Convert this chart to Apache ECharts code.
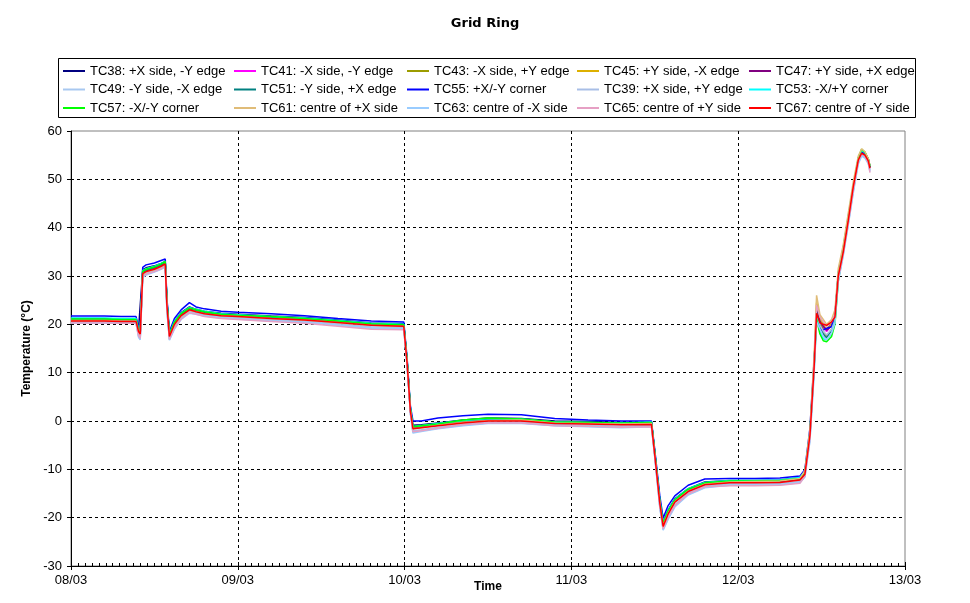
<!DOCTYPE html>
<html><head><meta charset="utf-8">
<script src="https://cdn.jsdelivr.net/npm/echarts@6/dist/echarts.min.js"></script>
<style>html,body{margin:0;padding:0;background:#fff}#c{width:970px;height:603px}</style>
</head><body><div id="c"></div>
<script>
// Tick labels (x axis = days since 08/03 00:00)
const xTickLabels = ['08/03','09/03','10/03','11/03','12/03','13/03'];
// Time stamps (days)
const times = [0,0.1,0.2,0.3,0.39, 0.405,0.415, 0.43,0.45,0.5,0.54,0.565, 0.575,0.59, 0.62,0.66,0.71,0.75,0.8,0.9,
  1.0,1.2,1.4,1.6,1.8,1.995, 2.015,2.035, 2.05,2.1,2.2,2.35,2.5,2.7,2.9,3.1,3.3,3.48,
  3.5,3.53,3.55,3.58,3.62, 3.7,3.8,3.95,4.1,4.25,4.37, 4.4,4.43,4.455,4.47, 4.49,4.51,4.53,4.56,4.58,
  4.6,4.63,4.66,4.69,4.72,4.74,4.76,4.78,4.79];

const TC38 = [21.2,21.2,21.2,21.1,21.1, 19.0,18.6, 31.3,31.7,32.1,32.6,33.0, 25.0,18.0, 20.6,22.4,23.6,23.1,22.7,22.3,
  22.1,21.7,21.4,20.9,20.3,20.1, 12.5,2.5, -0.9,-0.8,-0.4,0.2,0.6,0.5,0.0,-0.1,-0.3,-0.2,
  -6.5,-16.3,-21.0,-18.4,-16.1, -14.0,-12.6,-12.3,-12.3,-12.2,-11.7, -10.5,-2.5,11.5,22.0, 19.8,19.3,19.0,20.0,21.8,
  30.2,35.3,41.8,48.7,54.3,55.8,55.3,54.0,52.6];
const TC41 = [20.9,20.9,20.9,20.8,20.8, 18.4,17.9, 30.7,31.1,31.6,32.2,32.7, 24.3,17.6, 20.1,21.9,23.1,22.8,22.4,22.0,
  21.8,21.4,21.0,20.5,20.0,19.8, 12.2,2.2, -1.4,-1.2,-0.8,-0.2,0.2,0.1,-0.3,-0.4,-0.6,-0.5,
  -6.8,-16.8,-21.5,-19.0,-16.6, -14.4,-13.0,-12.6,-12.6,-12.5,-12.0, -10.8,-2.8,11.0,23.0, 20.5,19.5,18.5,19.8,21.3,
  29.8,35.0,41.5,48.5,54.2,55.8,55.4,54.0,52.5];
const TC43 = [21.0,21.0,20.9,20.9,20.9, 18.6,18.1, 30.8,31.2,31.7,32.3,32.8, 24.5,17.8, 20.3,22.0,23.2,22.9,22.5,22.0,
  21.9,21.5,21.2,20.6,20.1,19.9, 12.3,2.3, -1.2,-1.0,-0.6,0.0,0.4,0.3,-0.2,-0.3,-0.5,-0.4,
  -6.7,-16.6,-21.3,-18.7,-16.4, -14.2,-12.9,-12.5,-12.4,-12.3,-11.8, -10.6,-2.6,11.5,23.5, 20.8,18.5,17.5,19.0,21.0,
  29.5,35.8,42.3,48.0,53.8,56.0,55.6,54.2,52.8];
const TC45 = [20.9,20.9,20.9,20.8,20.8, 18.5,18.0, 30.6,31.0,31.5,32.1,32.6, 24.3,17.6, 20.1,21.9,23.1,22.7,22.4,21.9,
  21.8,21.4,21.1,20.5,20.0,19.8, 12.1,2.1, -1.3,-1.1,-0.7,-0.1,0.3,0.2,-0.3,-0.4,-0.6,-0.5,
  -6.9,-16.8,-21.5,-18.9,-16.6, -14.3,-13.0,-12.6,-12.5,-12.4,-11.9, -10.7,-2.9,12.0,24.5, 21.5,20.0,19.0,20.0,21.8,
  30.4,35.5,42.0,48.2,54.0,56.2,55.5,54.0,52.6];
const TC47 = [20.8,20.8,20.8,20.7,20.7, 18.3,17.8, 30.6,31.0,31.5,32.1,32.6, 24.2,17.5, 20.0,21.8,23.0,22.7,22.3,21.9,
  21.7,21.3,21.0,20.5,19.9,19.7, 12.0,2.0, -1.5,-1.3,-0.9,-0.3,0.1,0.1,-0.4,-0.5,-0.7,-0.6,
  -7.0,-17.0,-21.6,-19.1,-16.7, -14.5,-13.1,-12.7,-12.7,-12.6,-12.1, -10.9,-3.0,11.2,22.8, 20.6,19.6,18.8,19.6,21.6,
  30.0,35.2,41.6,48.4,54.0,55.6,55.1,53.9,52.4];
const TC49 = [20.4,20.4,20.3,20.3,20.3, 17.5,16.9, 29.8,30.3,30.9,31.5,32.0, 23.0,16.8, 19.2,21.2,22.5,22.3,21.8,21.4,
  21.2,20.8,20.5,19.9,19.3,19.2, 11.5,1.5, -2.3,-2.0,-1.5,-0.9,-0.4,-0.4,-0.9,-1.1,-1.3,-1.1,
  -7.5,-17.8,-22.5,-20.2,-17.6, -15.2,-13.7,-13.2,-13.2,-13.1,-12.7, -11.5,-4.0,10.0,21.0, 19.5,18.0,17.0,18.5,20.5,
  29.0,34.5,40.8,47.5,53.5,55.0,54.6,53.4,51.8];
const TC51 = [21.0,21.0,21.0,20.9,20.9, 18.7,18.2, 30.9,31.3,31.8,32.4,32.9, 24.6,17.9, 20.4,22.1,23.3,22.9,22.5,22.1,
  21.9,21.5,21.2,20.7,20.1,19.9, 12.4,2.4, -1.1,-0.9,-0.5,0.1,0.4,0.3,-0.2,-0.3,-0.4,-0.3,
  -6.6,-16.5,-21.2,-18.6,-16.3, -14.1,-12.8,-12.4,-12.4,-12.3,-11.8, -10.5,-2.4,11.8,22.5, 19.5,18.0,17.2,18.8,21.0,
  30.6,35.6,42.0,48.6,54.2,55.9,55.4,54.1,52.6];
const TC55 = [21.7,21.7,21.7,21.6,21.6, 19.5,19.0, 31.8,32.3,32.7,33.2,33.5, 25.5,18.5, 21.2,23.0,24.5,23.6,23.2,22.7,
  22.5,22.2,21.8,21.2,20.7,20.5, 13.0,3.0, 0.0,0.0,0.6,1.1,1.4,1.3,0.5,0.2,0.0,0.0,
  -6.0,-15.5,-20.1,-17.5,-15.5, -13.3,-12.0,-11.9,-11.9,-11.8,-11.4, -10.0,-1.5,12.5,21.0, 19.0,18.8,19.2,19.5,22.0,
  30.5,35.5,42.0,48.5,54.0,55.6,55.2,54.0,52.5];
const TC39 = [20.5,20.5,20.5,20.4,20.4, 17.8,17.2, 30.1,30.6,31.1,31.7,32.2, 23.4,17.0, 19.5,21.4,22.7,22.4,22.0,21.6,
  21.4,21.0,20.7,20.1,19.5,19.4, 11.7,1.7, -2.0,-1.8,-1.3,-0.7,-0.2,-0.2,-0.7,-0.9,-1.1,-0.9,
  -7.3,-17.5,-22.2,-19.8,-17.3, -14.9,-13.5,-13.0,-13.0,-12.9,-12.5, -11.3,-3.5,10.5,21.5, 19.8,18.6,17.8,19.0,20.8,
  29.2,34.8,41.0,47.8,53.7,55.2,54.8,53.6,52.0];
const TC53 = [21.3,21.3,21.3,21.2,21.2, 18.9,18.4, 31.1,31.5,32.0,32.6,33.0, 24.8,18.0, 20.6,22.3,23.5,23.1,22.7,22.2,
  22.0,21.6,21.3,20.8,20.2,20.0, 12.6,2.6, -1.2,-1.0,-0.5,0.1,0.5,0.4,-0.2,-0.3,-0.4,-0.2,
  -6.5,-16.4,-21.1,-18.5,-16.2, -14.0,-12.7,-12.3,-12.3,-12.2,-11.7, -10.4,-2.3,12.0,21.5, 18.5,17.0,16.8,18.0,20.5,
  30.8,36.0,42.5,48.8,54.4,56.0,55.5,54.2,52.7];
const TC57 = [21.1,21.1,21.1,21.0,21.0, 18.8,18.3, 31.0,31.4,31.9,32.5,33.0, 24.7,17.9, 20.5,22.2,23.4,23.0,22.6,22.1,
  21.9,21.6,21.2,20.7,20.1,19.9, 12.5,2.5, -1.2,-1.0,-0.6,0.2,0.6,0.4,-0.2,-0.3,-0.4,-0.3,
  -6.6,-16.5,-21.2,-18.6,-16.3, -14.1,-12.8,-12.4,-12.4,-12.3,-11.9, -10.6,-2.8,11.0,21.0, 18.0,16.6,16.4,17.5,20.0,
  29.0,35.2,41.5,48.0,54.5,56.2,55.6,54.2,52.6];
const TC61 = [20.8,20.8,20.8,20.7,20.7, 18.2,17.7, 30.4,30.8,31.3,31.9,32.4, 24.0,17.3, 19.8,21.7,22.9,22.6,22.2,21.8,
  21.6,21.2,20.9,20.4,19.8,19.6, 12.0,2.0, -1.6,-1.4,-0.9,-0.3,0.1,0.2,-0.4,-0.5,-0.6,-0.5,
  -7.0,-17.1,-21.7,-19.1,-16.7, -14.5,-13.1,-12.6,-12.5,-12.4,-11.9, -10.2,-1.8,13.5,26.0, 22.0,21.0,20.0,21.0,23.0,
  31.5,36.5,43.0,49.5,54.8,56.3,55.7,54.3,52.8];
const TC63 = [20.3,20.3,20.3,20.2,20.2, 17.3,16.8, 29.7,30.2,30.8,31.4,31.9, 22.8,16.7, 19.0,21.0,22.3,22.1,21.7,21.3,
  21.1,20.7,20.4,19.8,19.2,19.1, 11.4,1.4, -2.5,-2.2,-1.6,-1.0,-0.5,-0.5,-1.0,-1.2,-1.4,-1.2,
  -7.6,-18.0,-22.6,-20.3,-17.8, -15.3,-13.8,-13.3,-13.3,-13.2,-12.8, -11.6,-4.2,9.5,20.5, 19.0,17.5,16.8,18.2,20.2,
  28.8,34.2,40.5,47.2,53.2,54.8,54.4,53.2,51.6];
const TC65 = [20.3,20.3,20.3,20.2,20.2, 17.6,17.1, 29.9,30.4,30.9,31.5,32.0, 23.2,16.9, 19.2,21.1,22.4,22.1,21.6,21.2,
  21.0,20.6,20.2,19.6,19.0,18.9, 11.6,1.6, -2.2,-2.0,-1.5,-0.8,-0.4,-0.4,-1.0,-1.1,-1.3,-1.2,
  -7.4,-17.6,-22.3,-19.9,-17.5, -15.1,-13.6,-13.4,-13.4,-13.3,-12.9, -11.4,-3.6,11.5,24.0, 21.5,20.5,19.5,20.5,22.0,
  29.5,34.6,41.0,47.8,53.6,55.2,54.8,53.4,51.4];
const TC67 = [20.7,20.7,20.7,20.6,20.6, 18.5,18.0, 30.5,30.9,31.4,32.0,32.5, 24.0,17.5, 20.0,21.8,23.0,22.6,22.2,21.8,
  21.6,21.2,20.9,20.4,19.8,19.6, 12.0,2.0, -1.6,-1.4,-1.0,-0.4,0.0,0.0,-0.5,-0.6,-0.8,-0.7,
  -7.0,-17.0,-21.8,-19.2,-16.8, -14.6,-13.2,-12.8,-12.8,-12.7,-12.2, -11.0,-3.0,11.0,22.3, 20.3,20.0,19.8,20.5,21.5,
  30.0,35.0,41.5,48.5,54.0,55.4,55.0,53.8,52.3];

const seriesList = [
  ['TC38: +X side, -Y edge', TC38, '#000080'],
  ['TC41: -X side, -Y edge', TC41, '#FF00FF'],
  ['TC43: -X side, +Y edge', TC43, '#9C9C00'],
  ['TC45: +Y side, -X edge', TC45, '#DDB000'],
  ['TC47: +Y side, +X edge', TC47, '#800080'],
  ['TC49: -Y side, -X edge', TC49, '#A8C8F0'],
  ['TC51: -Y side, +X edge', TC51, '#008080'],
  ['TC55: +X/-Y corner', TC55, '#0000FF'],
  ['TC39: +X side, +Y edge', TC39, '#A8BEE6'],
  ['TC53: -X/+Y corner', TC53, '#00FFFF'],
  ['TC57: -X/-Y corner', TC57, '#00FF00'],
  ['TC61: centre of +X side', TC61, '#E0BC78'],
  ['TC63: centre of -X side', TC63, '#99CCFF'],
  ['TC65: centre of +Y side', TC65, '#E6A0C4'],
  ['TC67: centre of -Y side', TC67, '#FF0000']
];

const FONT = '"Liberation Sans", Arial, sans-serif';
const chart = echarts.init(document.getElementById('c'), null, {renderer: 'canvas'});

const series = seriesList.map(([name, vals, color]) => ({
  name, type: 'line', symbol: 'none', showSymbol: false,
  color, lineStyle: {width: 1.5, color},
  data: times.map((t, i) => [t, vals[i]]),
  animation: false
}));

const colLefts = [63, 234, 407, 577, 749];
const legends = colLefts.map((left, c) => ({
  left, top: 64, orient: 'vertical', padding: 0,
  itemGap: 4.5, itemWidth: 22, itemHeight: 2, icon: 'rect',
  selectedMode: false,
  textStyle: {fontFamily: FONT, fontSize: 13, color: '#000', lineHeight: 14},
  data: [seriesList[c][0], seriesList[c + 5][0], seriesList[c + 10][0]]
}));

chart.setOption({
  backgroundColor: '#fff',
  animation: false,
  title: {
    text: 'Grid Ring', left: 'center', top: 17, padding: 0,
    textStyle: {fontFamily: '"DejaVu Sans", sans-serif', fontSize: 13, fontWeight: 'bold', color: '#000'}
  },
  legend: legends,
  graphic: [{
    type: 'rect', shape: {x: 58.5, y: 58.5, width: 857, height: 59},
    style: {fill: 'none', stroke: '#000', lineWidth: 1}, z: 0
  }],
  grid: {left: 71, right: 65, top: 131, bottom: 37, containLabel: false, outerBoundsMode: 'none',
    show: true, borderColor: '#808080', borderWidth: 1, backgroundColor: 'transparent'},
  xAxis: [{
    type: 'value', min: 0, max: 5, interval: 1, position: 'bottom',
    name: 'Time', nameLocation: 'middle', nameGap: 15, nameMoveOverlap: false,
    nameTextStyle: {fontFamily: FONT, fontSize: 12, fontWeight: 'bold', color: '#000'},
    axisLine: {onZero: false, lineStyle: {color: '#000', width: 1}},
    axisTick: {show: true, length: 4, lineStyle: {color: '#000'}},
    axisLabel: {margin: 8, fontFamily: FONT, fontSize: 13, color: '#000',
      formatter: v => xTickLabels[Math.round(v)]},
    splitLine: {show: true, showMinLine: false, showMaxLine: false, lineStyle: {color: '#000', type: [3, 3], width: 1}}
  }, {
    type: 'value', min: 0, max: 5, interval: 1, position: 'bottom', offset: 0,
    axisLine: {show: false, onZero: false},
    axisTick: {show: true, inside: true, length: 4, lineStyle: {color: '#000'}},
    minorTick: {show: true, splitNumber: 24, length: 3, lineStyle: {color: '#000'}},
    axisLabel: {show: false},
    splitLine: {show: false}
  }],
  yAxis: {
    type: 'value', min: -30, max: 60, interval: 10,
    name: 'Temperature (°C)', nameLocation: 'middle', nameGap: 38, nameMoveOverlap: false,
    nameTextStyle: {fontFamily: FONT, fontSize: 12, fontWeight: 'bold', color: '#000'},
    axisLine: {show: true, onZero: false, lineStyle: {color: '#000', width: 1}},
    axisTick: {show: true, length: 4, lineStyle: {color: '#000'}},
    axisLabel: {margin: 9, fontFamily: FONT, fontSize: 13, color: '#000'},
    splitLine: {show: true, showMinLine: false, showMaxLine: false, lineStyle: {color: '#000', type: [3, 3], width: 1}}
  },
  series
});
</script></body></html>
